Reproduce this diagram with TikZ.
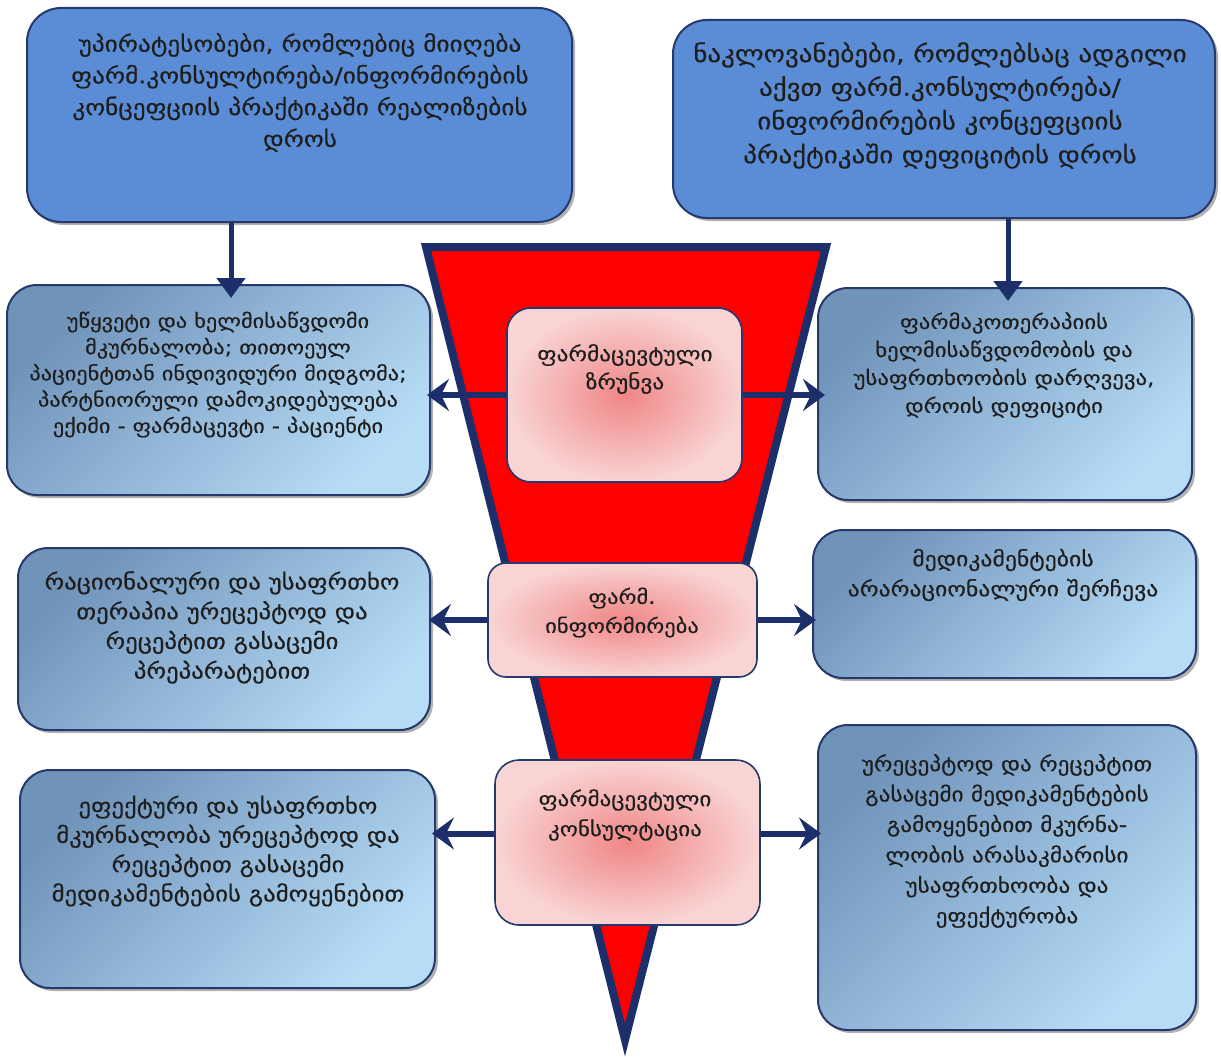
\documentclass[tikz,border=0pt]{standalone}
\usepackage{fontspec}
\setmainfont[FakeStretch=1.15,FakeBold=0.4]{DejaVu Sans}
\usetikzlibrary{arrows.meta,shadows,calc}
\definecolor{navy}{HTML}{1C2F6B}
\definecolor{boxline}{HTML}{26396A}
\definecolor{topblue}{HTML}{5A8DD5}
\definecolor{sidedark}{HTML}{7093BA}
\definecolor{sidelight}{HTML}{B6DCF6}
\definecolor{pinkout}{HTML}{F9D4D4}
\definecolor{pinkin}{HTML}{F08686}
\definecolor{funnelred}{HTML}{FF0000}
\definecolor{txtcol}{HTML}{1E1E1E}
\begin{document}
\begin{tikzpicture}[x=1pt,y=-1pt,
  shadowed/.style={drop shadow={shadow xshift=3pt,shadow yshift=-3pt,opacity=0.3,fill=black}},
  topbox/.style={draw=boxline,line width=2pt,rounded corners=34pt,fill=topblue,shadowed},
  sidebox/.style={draw=boxline,line width=2pt,rounded corners=30pt,top color=sidedark,bottom color=sidelight,shading angle=45,shadowed},
  centerbox/.style={draw=boxline,line width=1.6pt,rounded corners=24pt,inner color=pinkin,outer color=pinkout},
  txt/.style={text=txtcol,align=center,inner sep=0pt},
  harrow/.style={draw=navy,line width=6pt,-{Stealth[length=22pt,width=32pt,inset=8pt]}},
  varrow/.style={draw=navy,line width=5pt,-{Triangle[length=20pt,width=28pt]}}
]
\useasboundingbox[fill=white] (0,0) rectangle (1221,1057);

% funnel
\draw[navy,line width=8pt,fill=funnelred,line join=miter] (426,247) -- (826,247) -- (625,1040) -- cycle;

% top boxes
\node[topbox,minimum width=545pt,minimum height=214pt] (tl) at (299.5,115) {};
\node[topbox,minimum width=542pt,minimum height=198pt] (tr) at (944,119) {};

% side boxes
\node[sidebox,minimum width=423pt,minimum height=210pt] (l1) at (218.5,390) {};
\node[sidebox,minimum width=374pt,minimum height=212pt] (r1) at (1005,394) {};
\node[sidebox,minimum width=412pt,minimum height=182pt] (l2) at (224,639) {};
\node[sidebox,minimum width=383pt,minimum height=148pt] (r2) at (1004.5,604) {};
\node[sidebox,minimum width=415pt,minimum height=218pt] (l3) at (227.5,879) {};
\node[sidebox,minimum width=378pt,minimum height=305pt] (r3) at (1007,877.5) {};

% center boxes
\node[centerbox,minimum width=235pt,minimum height=174pt] (c1) at (624.5,395) {};
\node[centerbox,rounded corners=18pt,minimum width=269pt,minimum height=114pt] (c2) at (622.5,620) {};
\node[centerbox,minimum width=265pt,minimum height=165pt] (c3) at (627.5,842.5) {};

% texts
\node[txt,font=\fontsize{22}{31.7}\selectfont] (tlt) at (300,92.5) {უპირატესობები, რომლებიც მიიღება\\ფარმ.კონსულტირება/ინფორმირების\\კონცეფციის პრაქტიკაში რეალიზების\\დროს};
\node[txt,font=\fontsize{23.5}{33.7}\selectfont] (trt) at (940,105.5) {ნაკლოვანებები, რომლებსაც ადგილი\\აქვთ ფარმ.კონსულტირება/\\ინფორმირების კონცეფციის\\პრაქტიკაში დეფიციტის დროს};
\node[txt,font=\fontsize{19.4}{26.25}\selectfont] (l1t) at (218,374.5) {უწყვეტი და ხელმისაწვდომი\\მკურნალობა; თითოეულ\\პაციენტთან ინდივიდური მიდგომა;\\პარტნიორული დამოკიდებულება\\ექიმი - ფარმაცევტი - პაციენტი};
\node[txt,font=\fontsize{19.8}{28}\selectfont] (r1t) at (1004,365) {ფარმაკოთერაპიის\\ხელმისაწვდომობის და\\უსაფრთხოობის დარღვევა,\\დროის დეფიციტი};
\node[txt,font=\fontsize{20.3}{28}\selectfont] (c1t) at (625,369) {ფარმაცევტული\\ზრუნვა};
\node[txt,font=\fontsize{21.5}{29.7}\selectfont] (l2t) at (222,627.5) {რაციონალური და უსაფრთხო\\თერაპია ურეცეპტოდ და\\რეცეპტით გასაცემი\\პრეპარატებით};
\node[txt,font=\fontsize{20.6}{30}\selectfont] (r2t) at (1003,575) {მედიკამენტების\\არარაციონალური შერჩევა};
\node[txt,font=\fontsize{19.6}{29}\selectfont] (c2t) at (622,612.5) {ფარმ.\\ინფორმირება};
\node[txt,font=\fontsize{21.5}{29.3}\selectfont] (l3t) at (228,851) {ეფექტური და უსაფრთხო\\მკურნალობა ურეცეპტოდ და\\რეცეპტით გასაცემი\\მედიკამენტების გამოყენებით};
\node[txt,font=\fontsize{20.2}{30.4}\selectfont] (r3t) at (1007,841) {ურეცეპტოდ და რეცეპტით\\გასაცემი მედიკამენტების\\გამოყენებით მკურნა-\\ლობის არასაკმარისი\\უსაფრთხოობა და\\ეფექტურობა};
\node[txt,font=\fontsize{20}{30}\selectfont] (c3t) at (625,815) {ფარმაცევტული\\კონსულტაცია};

% arrow anchor points
\coordinate (c3w) at ($(c3.west)+(0,-9)$);
\coordinate (c3e) at ($(c3.east)+(0,-9)$);

% arrows
\draw[varrow,shorten >=-14pt] (tl.south -| 231,0) -- (l1.north -| 231,0);
\draw[varrow,shorten >=-14pt] (tr.south -| 1008,0) -- (r1.north -| 1008,0);
\draw[harrow,shorten >=-4pt] (c1.west) -- (c1.west -| l1.east);
\draw[harrow,shorten >=-8pt] (c1.east) -- (c1.east -| r1.west);
\draw[harrow,shorten >=-2pt] (c2.west) -- (c2.west -| l2.east);
\draw[harrow,shorten >=-4pt] (c2.east) -- (c2.east -| r2.west);
\draw[harrow,shorten >=-4pt] (c3w) -- (c3w -| l3.east);
\draw[harrow,shorten >=-4pt] (c3e) -- (c3e -| r3.west);
\end{tikzpicture}
\end{document}
